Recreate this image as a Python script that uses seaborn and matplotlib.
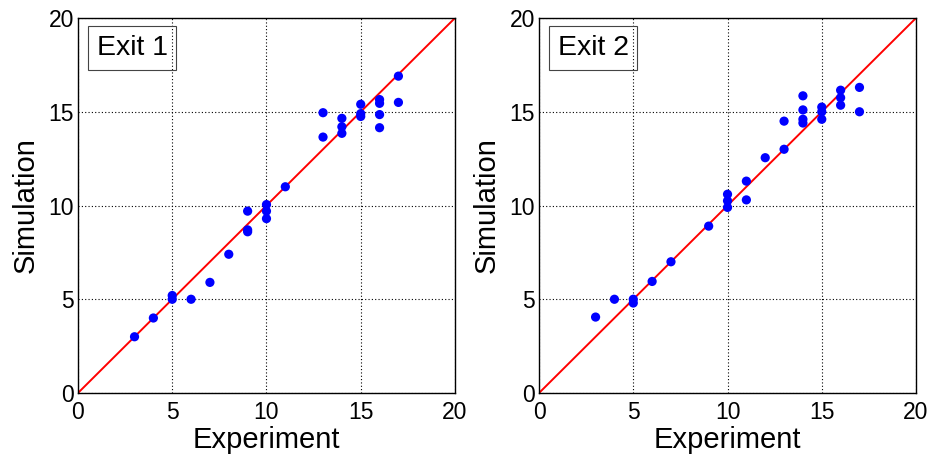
import numpy as np
import pandas as pd
import seaborn as sns
import matplotlib
matplotlib.use("Agg")
import matplotlib.pyplot as plt

# Exit 1: experiment vs simulation
exp1 = [3, 4, 5, 5, 6, 7, 8, 9, 9, 9, 10, 10, 10, 11,
        13, 13, 14, 14, 14, 15, 15, 15, 16, 16, 16, 16, 17, 17]
sim1 = [3.0, 4.0, 5.2, 5.0, 5.0, 5.9, 7.4, 9.7, 8.7, 8.6, 10.05, 9.7, 9.3, 11.0,
        14.95, 13.65, 14.65, 14.2, 13.85, 15.4, 14.9, 14.75, 15.65, 15.45, 14.85, 14.15, 16.9, 15.5]

# Exit 2
exp2 = [3, 4, 5, 5, 6, 7, 9, 10, 10, 10, 11, 11, 12, 13, 13,
        14, 14, 14, 14, 15, 15, 15, 16, 16, 16, 17, 17]
sim2 = [4.05, 5.0, 5.0, 4.8, 5.95, 7.0, 8.9, 10.6, 10.25, 9.9, 11.3, 10.3, 12.55, 13.0, 14.5,
        15.85, 15.1, 14.6, 14.4, 15.25, 15.0, 14.6, 16.15, 15.75, 15.35, 16.3, 15.0]

titles = ["Exit 1", "Exit 2"]
ticks = [0, 5, 10, 15, 20]
diag = [0, 20]

sns.set_theme(style="white")
plt.rcParams["font.family"] = ["Liberation Sans", "DejaVu Sans"]
plt.rcParams["text.color"] = "black"
plt.rcParams["axes.labelcolor"] = "black"
plt.rcParams["xtick.color"] = "black"
plt.rcParams["ytick.color"] = "black"

fig = plt.figure(figsize=(9.35, 4.61), dpi=100)
axes = [fig.add_axes([0.0834, 0.1475, 0.4032, 0.8134]),
        fig.add_axes([0.5765, 0.1475, 0.4032, 0.8134])]

for ax, x, y, title in zip(axes, [exp1, exp2], [sim1, sim2], titles):
    df = pd.DataFrame({"Experiment": x, "Simulation": y})
    sns.lineplot(x=diag, y=diag, ax=ax, color="red", linewidth=1.4, zorder=2)
    sns.scatterplot(data=df, x="Experiment", y="Simulation", ax=ax, color="blue",
                    s=44, edgecolor="none", zorder=3)
    ax.set_xlim(0, 20)
    ax.set_ylim(0, 20)
    ax.set_xticks(ticks)
    ax.set_yticks(ticks)
    ax.tick_params(labelsize=16.5, direction="in", length=4, color="black",
                   labelcolor="black")
    ax.tick_params(axis="x", pad=6)
    ax.tick_params(axis="y", pad=3)
    ax.grid(True, color="black", linestyle=(0, (1, 2)), linewidth=0.8)
    ax.set_axisbelow(True)
    for sp in ax.spines.values():
        sp.set_color("black")
        sp.set_linewidth(1.0)
    ax.set_xlabel("Experiment", fontsize=21, labelpad=1, color="black")
    ax.set_ylabel("Simulation", fontsize=21, labelpad=6, color="black")
    ax.text(1.0, 18.4, title, fontsize=20.5, va="center", ha="left", zorder=4,
            color="black",
            bbox=dict(boxstyle="square,pad=0.3", facecolor="none",
                      edgecolor="#444444", linewidth=0.8))

fig.savefig("out.png", dpi=100)
